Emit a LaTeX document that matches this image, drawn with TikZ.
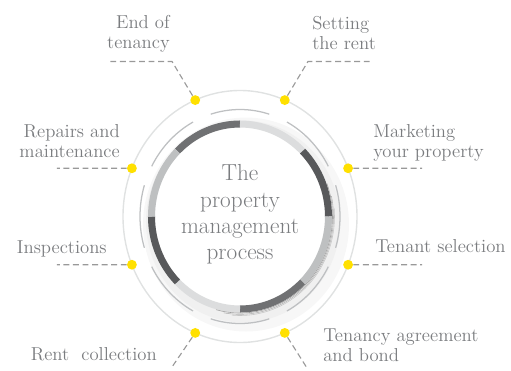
\documentclass[tikz,border=0pt]{standalone}
\usepackage{tikz}

\definecolor{labelgray}{RGB}{122,124,127}
\definecolor{dotyellow}{RGB}{255,224,0}
\definecolor{ringpale}{RGB}{224,226,226}
\definecolor{arcgray}{RGB}{190,192,194}
\definecolor{segdark}{RGB}{88,89,91}
\definecolor{segmid}{RGB}{112,113,115}
\definecolor{seglight}{RGB}{220,221,222}
\definecolor{segpale}{RGB}{190,192,193}

\begin{document}
\begin{tikzpicture}
            [x=0.025cm, y=0.025cm,
             dot/.style={draw=none,shape=circle,fill=dotyellow,inner sep=0,minimum size=7pt},
             caption/.style={text=labelgray,inner sep=0,font=\fontsize{13.3}{14.2}\selectfont},
             lead/.style={draw=gray!80,line width=0.8pt,dash pattern=on 4.2pt off 2.6pt},
             midarc/.style={draw=arcgray,line width=0.9pt},
             band/.style={line width=5pt}]

            \useasboundingbox (-240,-153.5) rectangle (271,216.5);

            % outer ring through the points
            \draw[ringpale, line width=1pt] (0,0) ellipse [x radius=117, y radius=126];

            % soft shadow under the disc
            \fill[black!3] (6,-8) ellipse [x radius=103, y radius=107];
            \fill[black!6] (3,-5) ellipse [x radius=97, y radius=101];

            % broken middle ring
            \draw[midarc] (73:100 and 107) arc [start angle=73, end angle=107, x radius=100, y radius=107];
            \draw[midarc] (118:100 and 107) arc [start angle=118, end angle=152, x radius=100, y radius=107];
            \draw[midarc] (163:100 and 107) arc [start angle=163, end angle=197, x radius=100, y radius=107];
            \draw[midarc] (208:100 and 107) arc [start angle=208, end angle=242, x radius=100, y radius=107];
            \draw[midarc] (253:100 and 107) arc [start angle=253, end angle=287, x radius=100, y radius=107];
            \draw[midarc] (298:100 and 107) arc [start angle=298, end angle=332, x radius=100, y radius=107];
            \draw[midarc] (343:100 and 107) arc [start angle=343, end angle=377, x radius=100, y radius=107];
            \draw[midarc] (28:100 and 107) arc [start angle=28, end angle=62, x radius=100, y radius=107];

            % disc and its thick band
            \fill[white] (0,0) ellipse [x radius=86, y radius=90];
            \draw[band, segmid] (135:88.5 and 92.5) arc [start angle=135, end angle=90, x radius=88.5, y radius=92.5];
            \draw[band, seglight] (90:88.5 and 92.5) arc [start angle=90, end angle=45, x radius=88.5, y radius=92.5];
            \draw[band, segdark] (45:88.5 and 92.5) arc [start angle=45, end angle=0, x radius=88.5, y radius=92.5];
            \draw[band, segpale] (0:88.5 and 92.5) arc [start angle=0, end angle=-45, x radius=88.5, y radius=92.5];
            \draw[band, segmid] (-45:88.5 and 92.5) arc [start angle=-45, end angle=-90, x radius=88.5, y radius=92.5];
            \draw[band, seglight] (-90:88.5 and 92.5) arc [start angle=-90, end angle=-135, x radius=88.5, y radius=92.5];
            \draw[band, segdark] (-135:88.5 and 92.5) arc [start angle=-135, end angle=-180, x radius=88.5, y radius=92.5];
            \draw[band, segpale] (180:88.5 and 92.5) arc [start angle=180, end angle=135, x radius=88.5, y radius=92.5];

            % thin rims on the lower right
            \draw[gray!75, line width=0.4pt] (-105:92.5 and 96.5) arc [start angle=-105, end angle=20, x radius=92.5, y radius=96.5];
            \draw[gray!60, line width=0.4pt] (-100:93.5 and 97.8) arc [start angle=-100, end angle=12, x radius=93.5, y radius=97.8];
            \draw[gray!45, line width=0.4pt] (-95:94.5 and 99) arc [start angle=-95, end angle=5, x radius=94.5, y radius=99];

            \node[text=labelgray, inner sep=0, align=center, anchor=north, font=\fontsize{16.5}{18.6}\selectfont] (hub) at (0,52)
                {The\\property\\management\\process};

            \node[dot] (p1) at (112.5:117 and 126) {};
            \node[dot] (p2) at (67.5:117 and 126) {};
            \node[dot] (p3) at (22.5:117 and 126) {};
            \node[dot] (p4) at (-22.5:117 and 126) {};
            \node[dot] (p5) at (-67.5:117 and 126) {};
            \node[dot] (p6) at (-112.5:117 and 126) {};
            \node[dot] (p7) at (-157.5:117 and 126) {};
            \node[dot] (p8) at (157.5:117 and 126) {};

            \coordinate (b1) at (-68,155);
            \coordinate (e1) at (-133,155);
            \coordinate (b2) at (68,155);
            \coordinate (e2) at (133,155);
            \coordinate (e3) at (182,48.2);
            \coordinate (e4) at (182,-48.2);
            \coordinate (e5) at (67,-151.5);
            \coordinate (e6) at (-68,-150.5);
            \coordinate (e7) at (-183,-48.2);
            \coordinate (e8) at (-183,48.2);

            \draw[lead] (p1) -- (b1) -- (e1);
            \draw[lead] (p2) -- (b2) -- (e2);
            \draw[lead] (p3) -- (e3);
            \draw[lead] (p4) -- (e4);
            \draw[lead] (p5) -- (e5);
            \draw[lead] (p6) -- (e6);
            \draw[lead] (p7) -- (e7);
            \draw[lead] (p8) -- (e8);

            \node[caption, anchor=north east, align=right] (t1) at (-70,201.5) {End of\\tenancy};
            \node[caption, anchor=north west, align=left] (t2) at (72,200.5) {Setting\\the rent};
            \node[caption, anchor=north west, align=left] (t3) at (133,92.5) {Marketing\\your property};
            \node[caption, anchor=base west] (t4) at (135,-35.5) {Tenant selection};
            \node[caption, anchor=north west, align=left] (t5) at (83,-112.5) {Tenancy agreement\\and bond};
            \node[caption, anchor=base east] (t6) at (-83,-143.5) {Rent\ \ collection};
            \node[caption, anchor=base east] (t7) at (-133,-36.5) {Inspections};
            \node[caption, anchor=north east, align=right] (t8) at (-120,92.5) {Repairs and\\maintenance};
          \end{tikzpicture}
\end{document}
